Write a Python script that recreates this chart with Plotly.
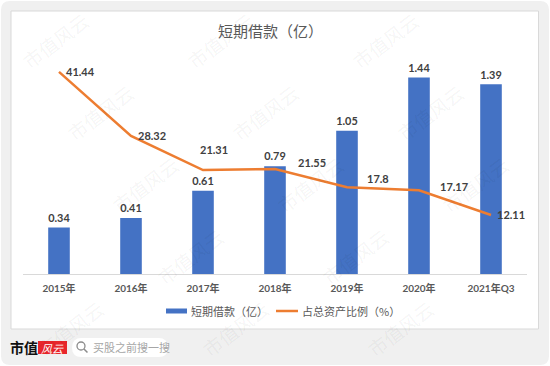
import plotly.graph_objects as go

# ---- data ----
categories = ["2015年", "2016年", "2017年", "2018年", "2019年", "2020年", "2021年Q3"]
short_loans = [0.34, 0.41, 0.61, 0.79, 1.05, 1.44, 1.39]          # 短期借款（亿）
asset_ratio = [41.44, 28.32, 21.31, 21.55, 17.8, 17.17, 12.11]    # 占总资产比例（%）
title_text = "短期借款（亿）"
legend_names = ["短期借款（亿）", "占总资产比例（%）"]

# label offsets (pixels) for the ratio labels
ratio_label_dx = [21, 21, 11, 37, 31, 35, 20]
ratio_label_dy = [0, 0, 21, 6, 9, 4, 0]

W, H = 550, 366
CJK = "Noto Sans CJK SC, Lato, sans-serif"
NUM = "Lato, Noto Sans CJK SC, sans-serif"


def px(x):
    return x / W


def py(y):
    return 1 - y / H


def rrect(x0, y0, x1, y1, r):
    return (f"M {px(x0 + r)},{py(y0)} L {px(x1 - r)},{py(y0)} "
            f"Q {px(x1)},{py(y0)} {px(x1)},{py(y0 + r)} "
            f"L {px(x1)},{py(y1 - r)} Q {px(x1)},{py(y1)} {px(x1 - r)},{py(y1)} "
            f"L {px(x0 + r)},{py(y1)} Q {px(x0)},{py(y1)} {px(x0)},{py(y1 - r)} "
            f"L {px(x0)},{py(y0 + r)} Q {px(x0)},{py(y0)} {px(x0 + r)},{py(y0)} Z")


def paper_text(x, y, text, font, xanchor="center"):
    return dict(x=px(x), y=py(y), xref="paper", yref="paper", text=text,
                showarrow=False, xanchor=xanchor, yanchor="middle", font=font)


fig = go.Figure()
fig.add_trace(go.Bar(
    x=categories, y=short_loans, name=legend_names[0],
    marker=dict(color="#4472C4", line=dict(width=0)), width=0.3,
    text=[f"{v:.2f}" for v in short_loans], textposition="outside",
    textfont=dict(size=12, color="#404040", family=NUM, weight="bold"),
    cliponaxis=False, showlegend=False, hoverinfo="skip",
))
fig.add_trace(go.Scatter(
    x=categories, y=asset_ratio, name=legend_names[1], yaxis="y2",
    mode="lines", line=dict(color="#ED7D31", width=2.5),
    showlegend=False, cliponaxis=False, hoverinfo="skip",
))

annotations = []

# watermarks (only those fully inside the picture)
for j in range(0, 5):
    for i in range(-1, 4):
        cx = 55 + 165 * i + 45 * j
        cy = 40 + 72 * j
        if 50 <= cx <= 500:
            a = paper_text(cx, cy, "市值风云",
                           dict(size=19, color="rgba(0,0,0,0.055)", family=CJK))
            a["textangle"] = -37
            annotations.append(a)

for c, v, dx, dy in zip(categories, asset_ratio, ratio_label_dx, ratio_label_dy):
    annotations.append(dict(
        x=c, y=v, xref="x", yref="y2", text=str(v), showarrow=False,
        xshift=dx, yshift=dy, xanchor="center", yanchor="middle",
        font=dict(size=11, color="#404040", family=NUM, weight="bold"),
    ))

# title
annotations.append(paper_text(270, 31, title_text,
                              dict(size=15, color="#595959", family=CJK)))

# legend (drawn manually)
annotations.append(paper_text(189, 311, legend_names[0],
                              dict(size=11, color="#595959", family=CJK), "left"))
annotations.append(paper_text(300, 311, legend_names[1],
                              dict(size=11, color="#595959", family=CJK), "left"))

# bottom logo / search
annotations.append(paper_text(24, 347, "市值",
                              dict(size=14, color="#111111", family=CJK, weight="bold")))
annotations.append(paper_text(52.5, 347.5, "<i>风云</i>",
                              dict(size=11, color="#ffffff", family=CJK)))
annotations.append(paper_text(91, 347, "买股之前搜一搜",
                              dict(size=11, color="#a6a6a6", family=CJK), "left"))

shapes = [
    dict(type="path", path=rrect(1, 1, 549, 365, 9), xref="paper", yref="paper",
         fillcolor="#f0f0f0", line=dict(width=0), layer="below"),
    dict(type="rect", x0=px(11), x1=px(538.5), y0=py(11), y1=py(329), xref="paper", yref="paper",
         fillcolor="#ffffff", line=dict(color="#d9d9d9", width=1), layer="below"),
    # legend markers
    dict(type="rect", x0=px(166), x1=px(187), y0=py(308.5), y1=py(313.5), xref="paper", yref="paper",
         fillcolor="#4472C4", line=dict(width=0)),
    dict(type="line", x0=px(276), x1=px(298), y0=py(311), y1=py(311), xref="paper", yref="paper",
         line=dict(color="#ED7D31", width=2.5)),
    # logo red box
    dict(type="rect", x0=px(38), x1=px(67), y0=py(341), y1=py(354), xref="paper", yref="paper",
         fillcolor="#e8262b", line=dict(width=0), layer="below"),
    # search pill
    dict(type="path", path=rrect(72, 338, 168, 357, 9.5), xref="paper", yref="paper",
         fillcolor="#ffffff", line=dict(width=0), layer="below"),
    dict(type="circle", x0=px(77), x1=px(85), y0=py(342), y1=py(350), xref="paper", yref="paper",
         line=dict(color="#8c8c8c", width=1.3)),
    dict(type="line", x0=px(84), x1=px(87.5), y0=py(349), y1=py(352.5), xref="paper", yref="paper",
         line=dict(color="#8c8c8c", width=1.5)),
]

y_bottom, y_top = 274, 60
fig.update_layout(
    width=W, height=H, margin=dict(l=0, r=0, t=0, b=0),
    paper_bgcolor="#ffffff", plot_bgcolor="rgba(0,0,0,0)",
    hovermode=False,
    xaxis=dict(domain=[px(23), px(527)], showline=True, linecolor="#d9d9d9", linewidth=1,
               showgrid=False, ticks="", zeroline=False, automargin=False,
               ticklabelstandoff=5,
               tickfont=dict(size=10, color="#595959", family=NUM, weight="bold")),
    yaxis=dict(domain=[py(y_bottom), py(y_top)], range=[0, (y_bottom - y_top) / 136.5],
               visible=False, showgrid=False, zeroline=False),
    yaxis2=dict(overlaying="y", range=[0, (y_bottom - y_top) / 4.876],
                visible=False, showgrid=False, zeroline=False),
    annotations=annotations, shapes=shapes,
)

fig.write_html("out.html", config={"displayModeBar": False},
               post_script="document.body.style.margin='0';document.body.style.overflow='hidden';")
